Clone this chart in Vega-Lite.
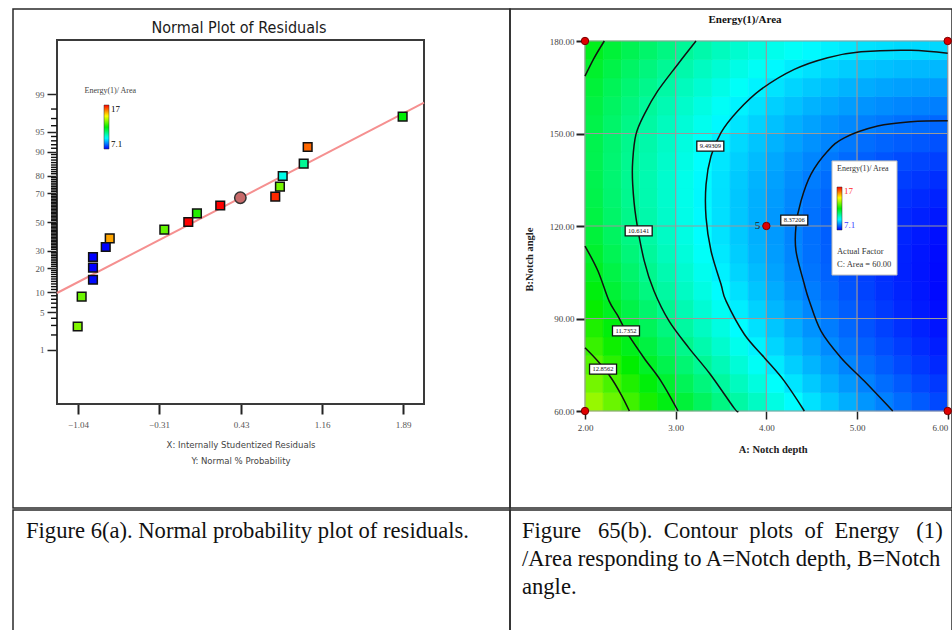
{
"$schema": "https://vega.github.io/schema/vega-lite/v6.json",
"background": "white",
"padding": {"left": 12, "top": 8, "right": 0, "bottom": 0},
"bounds": "full",
"spacing": 0,
"config": {"view": {"stroke": "#2a2a2a", "strokeWidth": 1.5}},
"resolve": {"scale": {"color": "independent"}, "legend": {"color": "independent"}},
"datasets": {
 "labels": [
  {"t": "8.37206", "a": 4.308, "b": 121.9},
  {"t": "9.49309", "a": 3.382, "b": 145.9},
  {"t": "10.6141", "a": 2.592, "b": 118.4},
  {"t": "11.7352", "a": 2.452, "b": 86.0},
  {"t": "12.8562", "a": 2.199, "b": 73.6}
 ],
 "minorTicks": [
  {"z": -2.0537}, {"z": -1.8808}, {"z": -1.7507}, {"z": -1.5548}, {"z": -1.4758}, {"z": -1.4051}, {"z": -1.3408},
  {"z": -1.2265}, {"z": -1.175}, {"z": -1.1264}, {"z": -1.0803}, {"z": -1.0364}, {"z": -0.9945}, {"z": -0.9542}, {"z": -0.9154}, {"z": -0.8779},
  {"z": -0.8064}, {"z": -0.7722}, {"z": -0.7388}, {"z": -0.7063}, {"z": -0.6745}, {"z": -0.6433}, {"z": -0.6128}, {"z": -0.5828}, {"z": -0.5534},
  {"z": -0.4959}, {"z": -0.4677}, {"z": -0.4399}, {"z": -0.4125}, {"z": -0.3853}, {"z": -0.3585}, {"z": -0.3319}, {"z": -0.3055}, {"z": -0.2793}, {"z": -0.2533},
  {"z": -0.2275}, {"z": -0.2019}, {"z": -0.1764}, {"z": -0.151}, {"z": -0.1257}, {"z": -0.1004}, {"z": -0.0753}, {"z": -0.0502}, {"z": -0.0251},
  {"z": 0.0251}, {"z": 0.0502}, {"z": 0.0753}, {"z": 0.1004}, {"z": 0.1257}, {"z": 0.151}, {"z": 0.1764}, {"z": 0.2019}, {"z": 0.2275},
  {"z": 0.2533}, {"z": 0.2793}, {"z": 0.3055}, {"z": 0.3319}, {"z": 0.3585}, {"z": 0.3853}, {"z": 0.4125}, {"z": 0.4399}, {"z": 0.4677}, {"z": 0.4959},
  {"z": 0.5534}, {"z": 0.5828}, {"z": 0.6128}, {"z": 0.6433}, {"z": 0.6745}, {"z": 0.7063}, {"z": 0.7388}, {"z": 0.7722}, {"z": 0.8064},
  {"z": 0.8779}, {"z": 0.9154}, {"z": 0.9542}, {"z": 0.9945}, {"z": 1.0364}, {"z": 1.0803}, {"z": 1.1264}, {"z": 1.175}, {"z": 1.2265},
  {"z": 1.3408}, {"z": 1.4051}, {"z": 1.4758}, {"z": 1.5548}, {"z": 1.7507}, {"z": 1.8808}, {"z": 2.0537}
 ]
},
"vconcat": [
 {
  "hconcat": [
   {
    "width": 497, "height": 499,
    "layer": [
     {
      "data": {"values": [{}]},
      "mark": {"type": "rect", "fill": "transparent", "stroke": "#3a3a3a", "strokeWidth": 2},
      "encoding": {
       "x": {"datum": -1.2293, "type": "quantitative",
        "scale": {"domain": [-1.2293, 2.0785], "range": [44, 411], "nice": false, "zero": false},
        "axis": {"orient": "bottom", "offset": -104, "values": [-1.04, -0.31, 0.43, 1.16, 1.89], "format": ".2f", "domain": false, "grid": false,
         "tickSize": 10, "tickWidth": 2, "tickColor": "#222",
         "labelFont": "Liberation Serif", "labelFontSize": 9, "labelColor": "#555", "labelPadding": 6,
         "title": ["X: Internally Studentized Residuals", "Y: Normal % Probability"], "titleFont": "DejaVu Sans Condensed, Liberation Sans Narrow, Liberation Sans, sans-serif", "titleFontSize": 9.5, "titleFontWeight": "normal", "titleColor": "#444", "titlePadding": 10, "titleLineHeight": 16}},
       "x2": {"datum": 2.0785},
       "y": {"datum": -3.309, "type": "quantitative",
        "scale": {"domain": [-3.309, 3.309], "range": [395, 31], "nice": false, "zero": false},
        "axis": {"orient": "left", "offset": -44,
         "values": [-2.3263, -1.6449, -1.2816, -0.8416, -0.5244, 0, 0.5244, 0.8416, 1.2816, 1.6449, 2.3263],
         "domain": false, "grid": false,
         "tickSize": 10, "tickWidth": 1.5, "tickColor": "#222",
         "labelExpr": "datum.value > 2 ? '99' : datum.value > 1.5 ? '95' : datum.value > 1 ? '90' : datum.value > 0.7 ? '80' : datum.value > 0.3 ? '70' : datum.value > -0.1 ? '50' : datum.value > -0.6 ? '30' : datum.value > -1 ? '20' : datum.value > -1.4 ? '10' : datum.value > -2 ? '5' : '1'",
         "labelOverlap": false,
         "labelFont": "Liberation Serif", "labelFontSize": 9, "labelColor": "#555", "labelPadding": 3,
         "title": "Energy(1)/ Area", "titleAngle": 0, "titleX": 27, "titleY": 81, "titleAlign": "left", "titleBaseline": "middle",
         "titleFont": "Liberation Serif", "titleFontSize": 8, "titleFontWeight": "normal", "titleColor": "#444"}},
       "y2": {"datum": 3.309}
      }
     },
     {
      "data": {"name": "minorTicks"},
      "mark": {"type": "rule", "color": "#111", "strokeWidth": 1.4},
      "encoding": {"x": {"datum": -1.2834, "type": "quantitative"}, "x2": {"datum": -1.2293}, "y": {"field": "z", "type": "quantitative"}}
     },
     {
      "data": {"values": [{"x": -1.2293, "z": -1.291}, {"x": 2.0785, "z": 2.169}]},
      "mark": {"type": "line", "color": "#f59090", "strokeWidth": 2},
      "encoding": {"x": {"field": "x", "type": "quantitative"}, "y": {"field": "z", "type": "quantitative"}}
     },
     {
      "data": {"values": [
       {"x": 1.886, "z": 1.915, "energy": 12.0},
       {"x": 1.03, "z": 1.364, "energy": 16.0},
       {"x": 0.994, "z": 1.06, "energy": 10.6},
       {"x": 0.805, "z": 0.836, "energy": 9.8},
       {"x": 0.78, "z": 0.642, "energy": 13.2},
       {"x": 0.738, "z": 0.46, "energy": 16.6},
       {"x": 0.242, "z": 0.3, "energy": 17.0},
       {"x": 0.032, "z": 0.158, "energy": 12.4},
       {"x": -0.046, "z": 0.0, "energy": 17.0},
       {"x": -0.262, "z": -0.14, "energy": 13.0},
       {"x": -0.754, "z": -0.297, "energy": 15.4},
       {"x": -0.79, "z": -0.455, "energy": 7.1},
       {"x": -0.905, "z": -0.636, "energy": 7.1},
       {"x": -0.905, "z": -0.83, "energy": 7.1},
       {"x": -0.905, "z": -1.05, "energy": 7.2},
       {"x": -1.007, "z": -1.357, "energy": 13.1},
       {"x": -1.043, "z": -1.9, "energy": 13.3}
      ]},
      "mark": {"type": "point", "shape": "square", "filled": true, "size": 75, "stroke": "#111", "strokeWidth": 1.5, "opacity": 1},
      "encoding": {
       "x": {"field": "x", "type": "quantitative"},
       "y": {"field": "z", "type": "quantitative"},
       "color": {"field": "energy", "type": "quantitative",
        "scale": {"domain": [7.1, 17], "range": ["#0000ff", "#00ffff", "#00ee00", "#ffff00", "#ff0000"], "interpolate": "rgb"},
        "legend": {"orient": "none", "legendX": 91, "legendY": 96, "title": null, "direction": "vertical", "gradientLength": 44, "gradientThickness": 5, "gradientStrokeColor": "#333", "gradientStrokeWidth": 0.5, "values": [7.1, 17], "format": "~g", "labelFont": "Liberation Serif", "labelFontSize": 9, "labelOffset": 2, "labelOverlap": false,
         "encode": {"labels": {"update": {"fill": {"signal": "datum.value > 12 ? '#ff2a2a' : '#3a3aff'"}}}}}}
      }
     },
     {
      "data": {"values": [{"x": 0.423, "z": 0.44}]},
      "mark": {"type": "point", "shape": "circle", "filled": true, "size": 130, "fill": "#c86a6a", "stroke": "#333", "strokeWidth": 1.5, "opacity": 1},
      "encoding": {"x": {"field": "x", "type": "quantitative"}, "y": {"field": "z", "type": "quantitative"}}
     },
     {
      "data": {"values": [{"t": "Normal Plot of Residuals"}]},
      "mark": {"type": "text", "align": "center", "baseline": "middle", "font": "DejaVu Sans Condensed, Liberation Sans Narrow, Liberation Sans, sans-serif", "fontSize": 16, "color": "#1a1a1a"},
      "encoding": {"x": {"datum": 0.411, "type": "quantitative"}, "y": {"datum": 3.527, "type": "quantitative"}, "text": {"field": "t"}}
     }
    ]
   },
   {
    "width": 442, "height": 499,
    "resolve": {"scale": {"x": "independent", "y": "independent"}},
    "layer": [
     {
      "data": {"values": [
       {"b": 63, "a21": 13.52, "a23": 13.08, "a25": 12.66, "a27": 12.26, "a29": 11.87, "a31": 11.50, "a33": 11.14, "a35": 10.79, "a37": 10.46, "a39": 10.15, "a41": 9.85, "a43": 9.56, "a45": 9.29, "a47": 9.03, "a49": 8.79, "a51": 8.56, "a53": 8.35, "a55": 8.15, "a57": 7.97, "a59": 7.80},
       {"b": 69, "a21": 13.18, "a23": 12.76, "a25": 12.35, "a27": 11.95, "a29": 11.57, "a31": 11.21, "a33": 10.85, "a35": 10.52, "a37": 10.20, "a39": 9.89, "a41": 9.60, "a43": 9.32, "a45": 9.06, "a47": 8.81, "a49": 8.58, "a51": 8.36, "a53": 8.16, "a55": 7.97, "a57": 7.79, "a59": 7.64},
       {"b": 75, "a21": 12.87, "a23": 12.46, "a25": 12.06, "a27": 11.67, "a29": 11.30, "a31": 10.94, "a33": 10.60, "a35": 10.27, "a37": 9.96, "a39": 9.66, "a41": 9.38, "a43": 9.11, "a45": 8.86, "a47": 8.62, "a49": 8.39, "a51": 8.18, "a53": 7.99, "a55": 7.81, "a57": 7.64, "a59": 7.49},
       {"b": 81, "a21": 12.59, "a23": 12.19, "a25": 11.79, "a27": 11.42, "a29": 11.05, "a31": 10.70, "a33": 10.37, "a35": 10.05, "a37": 9.75, "a39": 9.46, "a41": 9.18, "a43": 8.92, "a45": 8.68, "a47": 8.45, "a49": 8.23, "a51": 8.03, "a53": 7.85, "a55": 7.68, "a57": 7.52, "a59": 7.38},
       {"b": 87, "a21": 12.34, "a23": 11.94, "a25": 11.56, "a27": 11.19, "a29": 10.83, "a31": 10.49, "a33": 10.17, "a35": 9.86, "a37": 9.56, "a39": 9.28, "a41": 9.02, "a43": 8.77, "a45": 8.53, "a47": 8.31, "a49": 8.10, "a51": 7.91, "a53": 7.73, "a55": 7.57, "a57": 7.42, "a59": 7.29},
       {"b": 93, "a21": 12.11, "a23": 11.72, "a25": 11.35, "a27": 10.99, "a29": 10.64, "a31": 10.31, "a33": 9.99, "a35": 9.69, "a37": 9.41, "a39": 9.14, "a41": 8.88, "a43": 8.64, "a45": 8.41, "a47": 8.19, "a49": 8.00, "a51": 7.81, "a53": 7.65, "a55": 7.49, "a57": 7.35, "a59": 7.23},
       {"b": 99, "a21": 11.91, "a23": 11.53, "a25": 11.17, "a27": 10.81, "a29": 10.48, "a31": 10.15, "a33": 9.85, "a35": 9.55, "a37": 9.28, "a39": 9.01, "a41": 8.77, "a43": 8.53, "a45": 8.31, "a47": 8.11, "a49": 7.92, "a51": 7.74, "a53": 7.58, "a55": 7.44, "a57": 7.31, "a59": 7.19},
       {"b": 105, "a21": 11.74, "a23": 11.37, "a25": 11.01, "a27": 10.67, "a29": 10.34, "a31": 10.03, "a33": 9.73, "a35": 9.44, "a37": 9.17, "a39": 8.92, "a41": 8.68, "a43": 8.45, "a45": 8.24, "a47": 8.05, "a49": 7.87, "a51": 7.70, "a53": 7.55, "a55": 7.41, "a57": 7.29, "a59": 7.19},
       {"b": 111, "a21": 11.60, "a23": 11.23, "a25": 10.88, "a27": 10.55, "a29": 10.23, "a31": 9.92, "a33": 9.63, "a35": 9.36, "a37": 9.10, "a39": 8.85, "a41": 8.62, "a43": 8.40, "a45": 8.20, "a47": 8.02, "a49": 7.84, "a51": 7.69, "a53": 7.54, "a55": 7.42, "a57": 7.30, "a59": 7.21},
       {"b": 117, "a21": 11.48, "a23": 11.12, "a25": 10.78, "a27": 10.46, "a29": 10.14, "a31": 9.85, "a33": 9.57, "a35": 9.30, "a37": 9.05, "a39": 8.81, "a41": 8.59, "a43": 8.38, "a45": 8.19, "a47": 8.01, "a49": 7.85, "a51": 7.70, "a53": 7.57, "a55": 7.45, "a57": 7.34, "a59": 7.25},
       {"b": 123, "a21": 11.39, "a23": 11.04, "a25": 10.71, "a27": 10.39, "a29": 10.09, "a31": 9.80, "a33": 9.53, "a35": 9.27, "a37": 9.03, "a39": 8.80, "a41": 8.58, "a43": 8.39, "a45": 8.20, "a47": 8.03, "a49": 7.88, "a51": 7.74, "a53": 7.61, "a55": 7.50, "a57": 7.41, "a59": 7.33},
       {"b": 129, "a21": 11.32, "a23": 10.98, "a25": 10.66, "a27": 10.35, "a29": 10.06, "a31": 9.78, "a33": 9.51, "a35": 9.27, "a37": 9.03, "a39": 8.81, "a41": 8.61, "a43": 8.42, "a45": 8.24, "a47": 8.08, "a49": 7.93, "a51": 7.80, "a53": 7.69, "a55": 7.59, "a57": 7.50, "a59": 7.43},
       {"b": 135, "a21": 11.28, "a23": 10.95, "a25": 10.64, "a27": 10.34, "a29": 10.05, "a31": 9.78, "a33": 9.53, "a35": 9.29, "a37": 9.06, "a39": 8.85, "a41": 8.66, "a43": 8.48, "a45": 8.31, "a47": 8.16, "a49": 8.02, "a51": 7.90, "a53": 7.79, "a55": 7.70, "a57": 7.62, "a59": 7.55},
       {"b": 141, "a21": 11.27, "a23": 10.95, "a25": 10.65, "a27": 10.36, "a29": 10.08, "a31": 9.82, "a33": 9.57, "a35": 9.34, "a37": 9.12, "a39": 8.92, "a41": 8.73, "a43": 8.56, "a45": 8.40, "a47": 8.26, "a49": 8.13, "a51": 8.02, "a53": 7.92, "a55": 7.83, "a57": 7.76, "a59": 7.71},
       {"b": 147, "a21": 11.29, "a23": 10.98, "a25": 10.68, "a27": 10.40, "a29": 10.13, "a31": 9.88, "a33": 9.64, "a35": 9.42, "a37": 9.21, "a39": 9.01, "a41": 8.84, "a43": 8.67, "a45": 8.52, "a47": 8.39, "a49": 8.27, "a51": 8.16, "a53": 8.07, "a55": 8.00, "a57": 7.94, "a59": 7.89},
       {"b": 153, "a21": 11.33, "a23": 11.03, "a25": 10.74, "a27": 10.47, "a29": 10.21, "a31": 9.96, "a33": 9.74, "a35": 9.52, "a37": 9.32, "a39": 9.14, "a41": 8.97, "a43": 8.81, "a45": 8.67, "a47": 8.54, "a49": 8.43, "a51": 8.34, "a53": 8.26, "a55": 8.19, "a57": 8.14, "a59": 8.10},
       {"b": 159, "a21": 11.40, "a23": 11.11, "a25": 10.83, "a27": 10.56, "a29": 10.31, "a31": 10.08, "a33": 9.86, "a35": 9.65, "a37": 9.46, "a39": 9.29, "a41": 9.12, "a43": 8.98, "a45": 8.84, "a47": 8.73, "a49": 8.62, "a51": 8.54, "a53": 8.47, "a55": 8.41, "a57": 8.36, "a59": 8.33},
       {"b": 165, "a21": 11.50, "a23": 11.21, "a25": 10.94, "a27": 10.69, "a29": 10.45, "a31": 10.22, "a33": 10.01, "a35": 9.81, "a37": 9.63, "a39": 9.46, "a41": 9.31, "a43": 9.17, "a45": 9.05, "a47": 8.94, "a49": 8.84, "a51": 8.77, "a53": 8.70, "a55": 8.65, "a57": 8.62, "a59": 8.60},
       {"b": 171, "a21": 11.62, "a23": 11.35, "a25": 11.08, "a27": 10.84, "a29": 10.60, "a31": 10.39, "a33": 10.18, "a35": 10.00, "a37": 9.82, "a39": 9.66, "a41": 9.52, "a43": 9.39, "a45": 9.28, "a47": 9.18, "a49": 9.09, "a51": 9.02, "a53": 8.97, "a55": 8.92, "a57": 8.90, "a59": 8.89},
       {"b": 177, "a21": 11.78, "a23": 11.51, "a25": 11.25, "a27": 11.02, "a29": 10.79, "a31": 10.58, "a33": 10.39, "a35": 10.21, "a37": 10.04, "a39": 9.89, "a41": 9.76, "a43": 9.64, "a45": 9.53, "a47": 9.44, "a49": 9.36, "a51": 9.30, "a53": 9.26, "a55": 9.22, "a57": 9.21, "a59": 9.20}
      ]},
      "transform": [{"fold": ["a21","a23","a25","a27","a29","a31","a33","a35","a37","a39","a41","a43","a45","a47","a49","a51","a53","a55","a57","a59"], "as": ["a", "e"]}],
      "mark": {"type": "rect", "strokeWidth": 0.6},
      "encoding": {
       "x": {"field": "a", "type": "ordinal", "scale": {"range": [75, 437.7], "paddingInner": 0, "paddingOuter": 0}, "axis": null},
       "y": {"field": "b", "type": "ordinal", "sort": "descending", "scale": {"range": [32, 402], "paddingInner": 0, "paddingOuter": 0}, "axis": null},
       "color": {"field": "e", "type": "quantitative",
        "scale": {"domain": [7.1, 17], "range": ["#0000ff", "#00ffff", "#00ee00", "#ffff00", "#ff0000"], "interpolate": "rgb"},
        "legend": {"orient": "none", "legendX": 327, "legendY": 156, "title": "Energy(1)/ Area", "titleFont": "Liberation Serif", "titleFontSize": 8, "titleFontWeight": "normal", "titleColor": "#333", "titlePadding": 14, "direction": "vertical", "gradientLength": 43, "gradientThickness": 5, "gradientStrokeColor": "#333", "gradientStrokeWidth": 0.5, "values": [7.1, 17], "format": "~g", "labelFont": "Liberation Serif", "labelFontSize": 9, "labelOffset": 2, "labelOverlap": false,
         "encode": {"labels": {"update": {"fill": {"signal": "datum.value > 12 ? '#ff2a2a' : '#3a3aff'"}}}}}},
       "stroke": {"field": "e", "type": "quantitative",
        "scale": {"domain": [7.1, 17], "range": ["#0000ff", "#00ffff", "#00ee00", "#ffff00", "#ff0000"], "interpolate": "rgb"},
        "legend": null}
      }
     },
     {
      "layer": [
       {
        "data": {"values": [{"a": 2}, {"a": 3}, {"a": 4}, {"a": 5}, {"a": 6}]},
        "mark": {"type": "rule", "color": "#9a9a9a", "strokeWidth": 1.2},
        "encoding": {
         "x": {"field": "a", "type": "quantitative",
          "scale": {"domain": [2, 6], "range": [75, 437.7], "nice": false, "zero": false},
          "axis": {"orient": "bottom", "offset": -97, "values": [2, 3, 4, 5, 6], "format": ".2f", "domain": false, "grid": false,
           "tickSize": 8, "tickWidth": 1.5, "tickColor": "#222",
           "labelFont": "Liberation Serif", "labelFontSize": 9, "labelColor": "#444", "labelPadding": 4,
           "labelAlign": {"condition": {"test": "datum.value >= 6", "value": "right"}, "value": "center"},
           "title": "A: Notch depth", "titleFont": "Liberation Serif", "titleFontSize": 10.5, "titleFontWeight": "bold", "titleColor": "#222", "titlePadding": 12, "titleX": 262.7}},
         "y": {"datum": 60, "type": "quantitative",
          "scale": {"domain": [60, 180], "range": [402, 32], "nice": false, "zero": false},
          "axis": {"orient": "left", "offset": -75, "values": [60, 90, 120, 150, 180], "format": ".2f", "domain": false, "grid": false,
           "tickSize": 9, "tickWidth": 2, "tickColor": "#222",
           "labelFont": "Liberation Serif", "labelFontSize": 9, "labelColor": "#444", "labelPadding": 2,
           "title": "B:Notch angle", "titleFont": "Liberation Serif", "titleFontSize": 10.5, "titleFontWeight": "bold", "titleColor": "#222", "titleX": -51, "titleY": 250}},
         "y2": {"datum": 180}
        }
       },
       {
        "data": {"values": [{"b": 60}, {"b": 90}, {"b": 120}, {"b": 150}, {"b": 180}]},
        "mark": {"type": "rule", "color": "#9a9a9a", "strokeWidth": 1.2},
        "encoding": {
         "y": {"field": "b", "type": "quantitative"},
         "x": {"datum": 2, "type": "quantitative"},
         "x2": {"datum": 6}
        }
       },
       {
        "data": {"values": [
         {"c": "c1", "i": 0, "a": 2.0, "b": 80.5},
         {"c": "c1", "i": 1, "a": 2.14, "b": 76.2},
         {"c": "c1", "i": 2, "a": 2.287, "b": 70.8},
         {"c": "c1", "i": 3, "a": 2.397, "b": 65.4},
         {"c": "c1", "i": 4, "a": 2.489, "b": 60},
         {"c": "c2a", "i": 0, "a": 2.213, "b": 180},
         {"c": "c2a", "i": 1, "a": 2.103, "b": 174.6},
         {"c": "c2a", "i": 2, "a": 2.0, "b": 168.6},
         {"c": "c2b", "i": 0, "a": 2.0, "b": 113.5},
         {"c": "c2b", "i": 1, "a": 2.143, "b": 105.4},
         {"c": "c2b", "i": 2, "a": 2.265, "b": 95.7},
         {"c": "c2b", "i": 3, "a": 2.364, "b": 90.8},
         {"c": "c2b", "i": 4, "a": 2.452, "b": 85.9},
         {"c": "c2b", "i": 5, "a": 2.651, "b": 77.2},
         {"c": "c2b", "i": 6, "a": 2.838, "b": 69.7},
         {"c": "c2b", "i": 7, "a": 3.026, "b": 60},
         {"c": "c3", "i": 0, "a": 3.224, "b": 180},
         {"c": "c3", "i": 1, "a": 3.022, "b": 172.4},
         {"c": "c3", "i": 2, "a": 2.802, "b": 163.8},
         {"c": "c3", "i": 3, "a": 2.654, "b": 156.2},
         {"c": "c3", "i": 4, "a": 2.562, "b": 149.7},
         {"c": "c3", "i": 5, "a": 2.526, "b": 141.1},
         {"c": "c3", "i": 6, "a": 2.526, "b": 133.5},
         {"c": "c3", "i": 7, "a": 2.562, "b": 122.7},
         {"c": "c3", "i": 8, "a": 2.654, "b": 108.6},
         {"c": "c3", "i": 9, "a": 2.761, "b": 98.9},
         {"c": "c3", "i": 10, "a": 2.926, "b": 89.2},
         {"c": "c3", "i": 11, "a": 3.147, "b": 80.4},
         {"c": "c3", "i": 12, "a": 3.379, "b": 72.0},
         {"c": "c3", "i": 13, "a": 3.643, "b": 61.0},
         {"c": "c3", "i": 14, "a": 3.684, "b": 60},
         {"c": "c4", "i": 0, "a": 6.0, "b": 176.0},
         {"c": "c4", "i": 1, "a": 5.595, "b": 177.0},
         {"c": "c4", "i": 2, "a": 5.044, "b": 176.5},
         {"c": "c4", "i": 3, "a": 4.677, "b": 174.6},
         {"c": "c4", "i": 4, "a": 4.308, "b": 170.8},
         {"c": "c4", "i": 5, "a": 3.941, "b": 164.3},
         {"c": "c4", "i": 6, "a": 3.684, "b": 157.3},
         {"c": "c4", "i": 7, "a": 3.5, "b": 150.3},
         {"c": "c4", "i": 8, "a": 3.39, "b": 142.7},
         {"c": "c4", "i": 9, "a": 3.335, "b": 133.5},
         {"c": "c4", "i": 10, "a": 3.335, "b": 122.7},
         {"c": "c4", "i": 11, "a": 3.39, "b": 111.9},
         {"c": "c4", "i": 12, "a": 3.5, "b": 101.1},
         {"c": "c4", "i": 13, "a": 3.555, "b": 95.7},
         {"c": "c4", "i": 14, "a": 3.757, "b": 84.9},
         {"c": "c4", "i": 15, "a": 3.978, "b": 77.3},
         {"c": "c4", "i": 16, "a": 4.198, "b": 69.7},
         {"c": "c4", "i": 17, "a": 4.419, "b": 60},
         {"c": "c5", "i": 0, "a": 6.0, "b": 154.1},
         {"c": "c5", "i": 1, "a": 5.595, "b": 153.8},
         {"c": "c5", "i": 2, "a": 5.228, "b": 152.4},
         {"c": "c5", "i": 3, "a": 4.86, "b": 148.6},
         {"c": "c5", "i": 4, "a": 4.677, "b": 144.3},
         {"c": "c5", "i": 5, "a": 4.493, "b": 136.8},
         {"c": "c5", "i": 6, "a": 4.382, "b": 128.1},
         {"c": "c5", "i": 7, "a": 4.327, "b": 120.0},
         {"c": "c5", "i": 8, "a": 4.327, "b": 111.9},
         {"c": "c5", "i": 9, "a": 4.419, "b": 101.1},
         {"c": "c5", "i": 10, "a": 4.474, "b": 95.7},
         {"c": "c5", "i": 11, "a": 4.603, "b": 85.9},
         {"c": "c5", "i": 12, "a": 4.823, "b": 77.3},
         {"c": "c5", "i": 13, "a": 5.08, "b": 69.7},
         {"c": "c5", "i": 14, "a": 5.394, "b": 60}
        ]},
        "mark": {"type": "line", "color": "#111", "strokeWidth": 1.5, "interpolate": "cardinal"},
        "encoding": {
         "x": {"field": "a", "type": "quantitative"},
         "y": {"field": "b", "type": "quantitative"},
         "detail": {"field": "c"},
         "order": {"field": "i", "type": "quantitative"}
        }
       },
       {
        "data": {"name": "labels"},
        "mark": {"type": "point", "shape": "M-1.35,-0.5L1.35,-0.5L1.35,0.5L-1.35,0.5Z", "size": 400, "filled": true, "fill": "white", "stroke": "#111", "strokeWidth": 1.3, "opacity": 1},
        "encoding": {"x": {"field": "a", "type": "quantitative"}, "y": {"field": "b", "type": "quantitative"}}
       },
       {
        "data": {"name": "labels"},
        "mark": {"type": "text", "font": "Liberation Serif", "fontSize": 6.5, "color": "#111", "align": "center", "baseline": "middle"},
        "encoding": {"x": {"field": "a", "type": "quantitative"}, "y": {"field": "b", "type": "quantitative"}, "text": {"field": "t"}}
       },
       {
        "data": {"values": [{}]},
        "mark": {"type": "rect", "fill": "white", "stroke": "#bbbbbb", "strokeWidth": 1},
        "encoding": {"x": {"datum": 4.724, "type": "quantitative"}, "x2": {"datum": 5.441}, "y": {"datum": 104.1, "type": "quantitative"}, "y2": {"datum": 141.1}}
       },
       {
        "data": {"values": [{}]},
        "mark": {"type": "text", "align": "left", "baseline": "alphabetic", "font": "Liberation Serif", "fontSize": 8.5, "color": "#333", "lineHeight": 13},
        "encoding": {"x": {"datum": 4.779, "type": "quantitative"}, "y": {"datum": 110.9, "type": "quantitative"}, "text": {"value": ["Actual Factor", "C: Area  = 60.00"]}}
       },
       {
        "data": {"values": [{"a": 2, "b": 60}, {"a": 2, "b": 180}, {"a": 6, "b": 60}, {"a": 6, "b": 180}, {"a": 4, "b": 120}]},
        "mark": {"type": "point", "shape": "circle", "filled": true, "size": 55, "fill": "#e00000", "stroke": "#700", "strokeWidth": 1, "opacity": 1},
        "encoding": {"x": {"field": "a", "type": "quantitative"}, "y": {"field": "b", "type": "quantitative"}}
       },
       {
        "data": {"values": [{"t": "5", "a": 4, "b": 120}]},
        "mark": {"type": "text", "align": "right", "baseline": "middle", "dx": -6, "font": "Liberation Serif", "fontSize": 11, "color": "#222"},
        "encoding": {"x": {"field": "a", "type": "quantitative"}, "y": {"field": "b", "type": "quantitative"}, "text": {"field": "t"}}
       },
       {
        "data": {"values": [{"t": "Energy(1)/Area"}]},
        "mark": {"type": "text", "align": "center", "baseline": "middle", "font": "Liberation Serif", "fontSize": 11, "fontWeight": "bold", "color": "#111"},
        "encoding": {"x": {"datum": 3.765, "type": "quantitative"}, "y": {"datum": 186.8, "type": "quantitative"}, "text": {"field": "t"}}
       }
      ]
     }
    ]
   }
  ],
  "spacing": 0,
  "bounds": "flush",
  "resolve": {"scale": {"color": "independent"}, "legend": {"color": "independent"}}
 },
 {
  "hconcat": [
   {
    "width": 497, "height": 121,
    "data": {"values": [{"line": 1, "t": "Figure 6(a). Normal probability plot of residuals."}]},
    "mark": {"type": "text", "align": "left", "baseline": "alphabetic", "font": "Liberation Serif", "fontSize": 22.6, "color": "#111"},
    "encoding": {
     "x": {"datum": 0, "type": "quantitative", "scale": {"domain": [0, 1], "range": [13, 497]}, "axis": null},
     "y": {"field": "line", "type": "quantitative", "scale": {"domain": [1, 3], "range": [28, 84]}, "axis": null},
     "text": {"field": "t"}
    }
   },
   {
    "width": 442, "height": 121,
    "data": {"values": [
     {"line": 1, "t": "Figure \u00a0 65(b). \u00a0Contour \u00a0plots \u00a0of \u00a0Energy \u00a0 (1)"},
     {"line": 2, "t": "/Area responding to A=Notch depth, B=Notch"},
     {"line": 3, "t": "angle."}
    ]},
    "mark": {"type": "text", "align": "left", "baseline": "alphabetic", "font": "Liberation Serif", "fontSize": 22.6, "color": "#111"},
    "encoding": {
     "x": {"datum": 0, "type": "quantitative", "scale": {"domain": [0, 1], "range": [12, 442]}, "axis": null},
     "y": {"field": "line", "type": "quantitative", "scale": {"domain": [1, 3], "range": [28, 84]}, "axis": null},
     "text": {"field": "t"}
    }
   }
  ],
  "spacing": 0,
  "bounds": "flush"
 }
]
}
